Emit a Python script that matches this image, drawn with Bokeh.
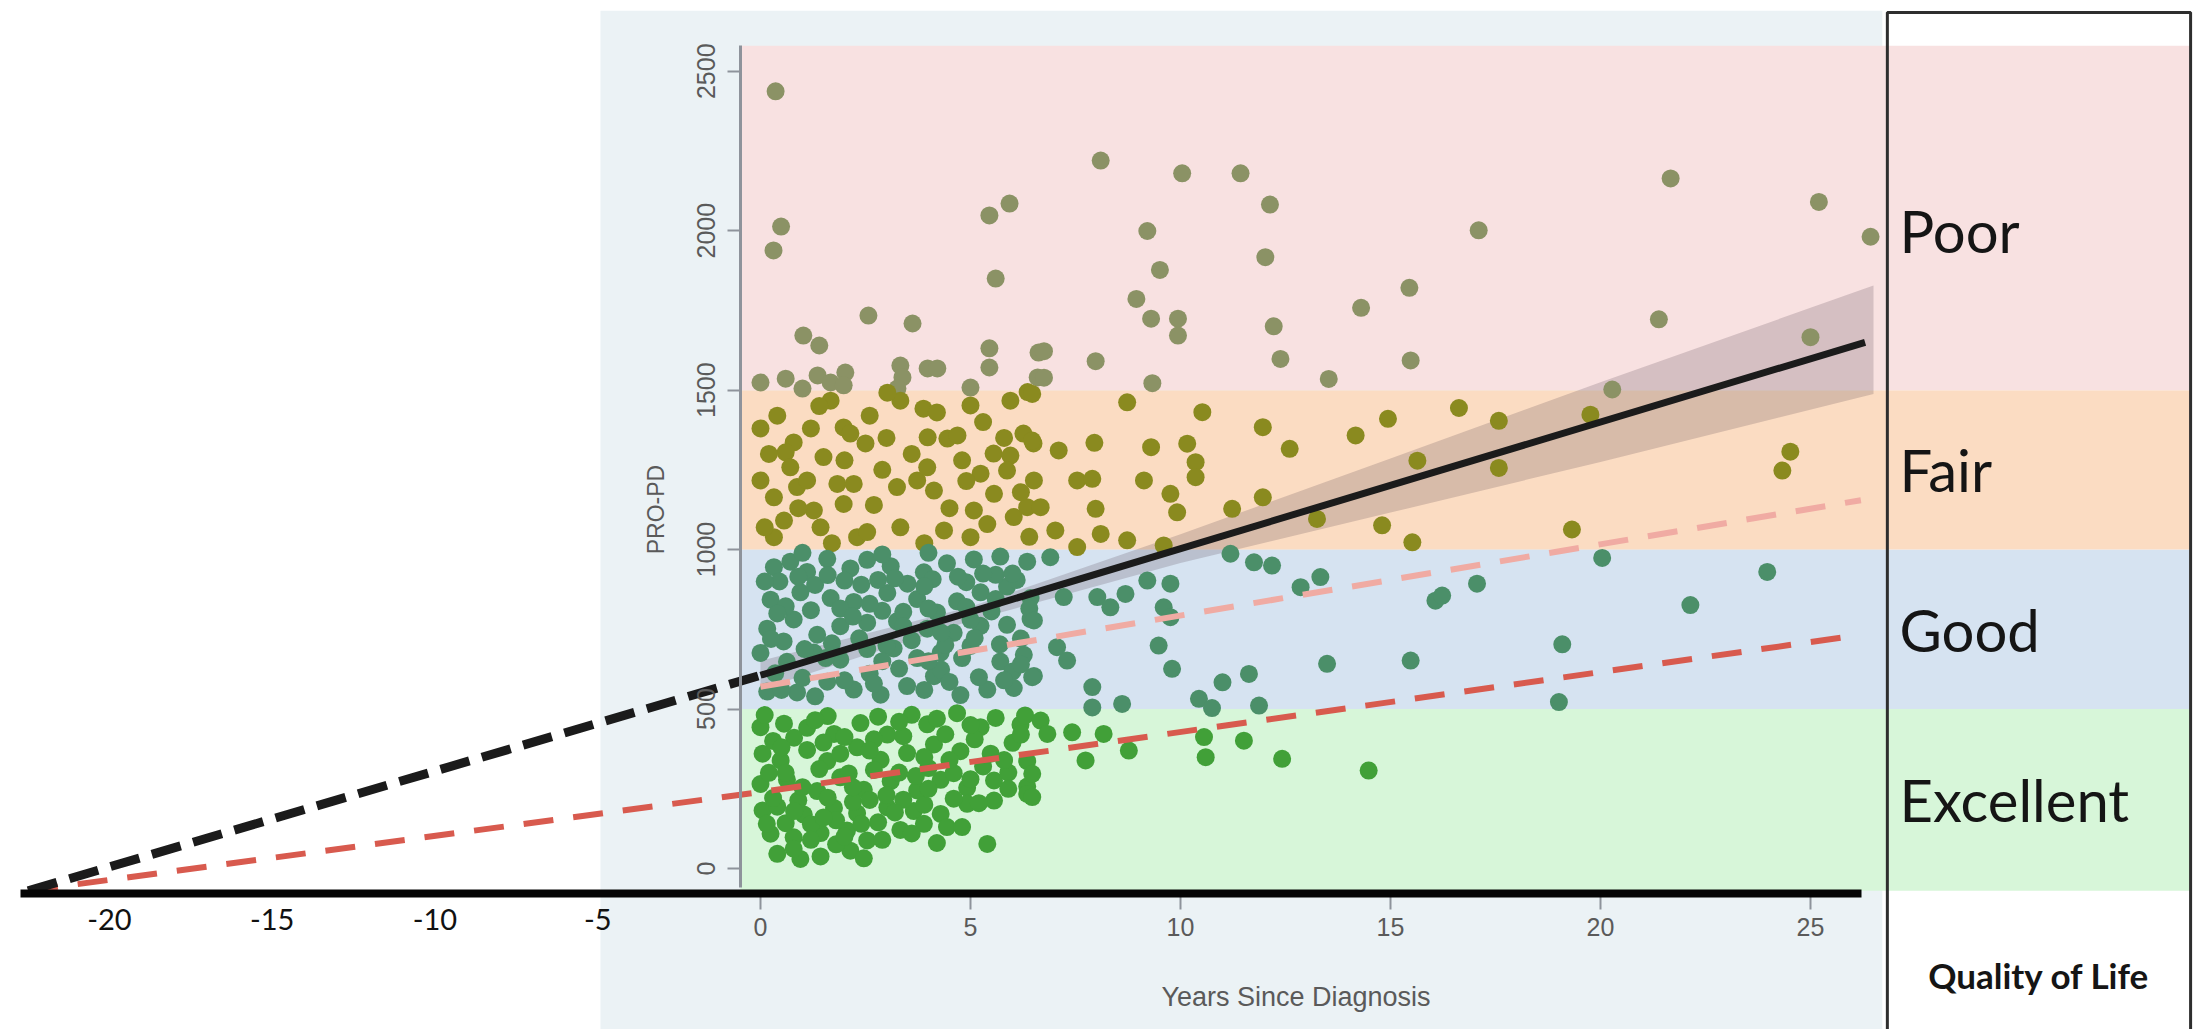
import numpy as np
from bokeh.plotting import figure
from bokeh.models import LinearAxis, FixedTicker, Range1d, ColumnDataSource
from bokeh.core.properties import value
from bokeh.embed import file_html
from bokeh.resources import INLINE

# ---------------- data ----------------
# Quality-of-life bands (PRO-PD score)
qol_labels = ["Excellent", "Good", "Fair", "Poor"]
band_low = [-70, 500, 1000, 1500]
band_high = [500, 1000, 1500, 2580]
band_colors = ["#d7f6d9", "#d6e3f1", "#fbdcc2", "#f8e1e1"]
point_colors = ["#41a038", "#4b8f69", "#8a8a1f", "#8b9265"]

x_ticks_right = [0, 5, 10, 15, 20, 25]
x_ticks_left = [-20, -15, -10, -5]
y_ticks = [0, 500, 1000, 1500, 2000, 2500]

# scatter: (years since diagnosis, PRO-PD)
pts = [
    # Poor
    (0.36, 2437), (0.49, 2013), (0.31, 1938), (5.93, 2085), (5.45, 2048), (5.6, 1850),
    (2.57, 1734), (3.62, 1709), (1.02, 1671), (1.40, 1640), (5.45, 1631), (5.45, 1571),
    (6.62, 1618), (0.0, 1524), (0.6, 1536), (1.0, 1505), (1.36, 1546), (1.67, 1524),
    (2.02, 1555), (1.98, 1515), (3.33, 1577), (3.38, 1540), (3.98, 1568), (4.21, 1568),
    (5.0, 1508), (6.6, 1540), (3.26, 1505),
    (8.10, 2220), (10.04, 2180), (11.43, 2180), (12.13, 2082), (9.21, 1999), (12.02, 1917),
    (9.51, 1877), (8.95, 1786), (9.30, 1724), (9.94, 1724), (9.94, 1671), (12.22, 1700),
    (14.30, 1758), (15.45, 1821), (6.75, 1622), (6.75, 1539), (7.98, 1591), (9.33, 1522),
    (12.38, 1598), (13.53, 1535), (15.48, 1593),
    (21.67, 2164), (25.20, 2090), (26.43, 1981), (17.10, 2001), (21.39, 1722), (25.0, 1666),
    (20.28, 1502),
    # Fair
    (0.0, 1380), (1.67, 1467), (3.33, 1467), (3.88, 1442), (5.0, 1452), (5.95, 1467),
    (1.98, 1383), (2.14, 1364), (2.5, 1333), (0.79, 1336), (0.6, 1305), (3.98, 1352),
    (4.45, 1348), (4.69, 1358), (6.26, 1364), (6.5, 1333), (5.55, 1301), (5.95, 1295),
    (3.02, 1492), (6.36, 1494), (6.47, 1488),
    (0.0, 1217), (0.32, 1164), (0.56, 1091), (0.32, 1039), (0.87, 1196), (1.11, 1217),
    (1.27, 1123), (1.43, 1070), (1.83, 1206), (2.22, 1206), (1.98, 1143), (2.30, 1039),
    (2.54, 1055), (3.25, 1196), (3.33, 1070), (3.73, 1217), (3.97, 1258), (4.13, 1185),
    (4.37, 1060), (5.0, 1039), (5.08, 1123), (5.24, 1238), (5.56, 1175), (5.87, 1248),
    (6.03, 1102), (6.35, 1133), (6.51, 1217), (0.71, 1258),
    (0.2, 1300), (0.4, 1420), (1.2, 1380), (1.5, 1290), (2.6, 1420), (2.9, 1250),
    (3.6, 1300), (4.2, 1430), (4.8, 1280), (5.3, 1400), (5.8, 1350), (6.2, 1180),
    (0.9, 1130), (2.7, 1140), (4.5, 1130), (5.4, 1080), (1.7, 1020), (3.9, 1020),
    (4.9, 1215), (0.1, 1070), (6.4, 1040), (2.0, 1280), (1.4, 1450), (3.0, 1350),
    (8.73, 1462), (10.52, 1431), (11.96, 1384), (14.17, 1358), (14.94, 1410),
    (6.47, 1342), (7.10, 1311), (7.95, 1335), (9.30, 1321), (10.16, 1332), (10.36, 1274),
    (10.36, 1227), (12.60, 1316), (15.64, 1279), (7.54, 1217), (7.90, 1222), (9.13, 1217),
    (9.76, 1175), (9.92, 1117), (6.67, 1133), (7.98, 1128), (11.23, 1128), (11.96, 1164),
    (7.02, 1060), (8.10, 1049), (8.73, 1029), (7.54, 1008), (9.60, 1013), (13.25, 1096),
    (14.80, 1076), (15.52, 1023),
    (16.63, 1444), (17.58, 1404), (19.76, 1423), (17.58, 1256), (24.52, 1307), (24.33, 1248),
    (19.32, 1063),
    # Good
    (0.32, 945), (0.71, 962), (1.11, 930), (1.59, 971), (2.14, 941), (2.54, 968),
    (3.10, 948), (3.89, 929), (4.44, 957), (5.08, 969), (5.71, 978), (6.35, 962),
    (0.24, 843), (0.95, 866), (1.67, 848), (2.22, 836), (3.02, 864), (3.73, 845),
    (4.68, 838), (5.24, 866), (5.87, 884), (6.43, 848),
    (0.16, 752), (0.79, 781), (1.35, 733), (1.90, 760), (2.54, 771), (3.25, 775),
    (3.97, 752), (4.60, 739), (5.24, 761), (5.87, 764), (6.43, 782),
    (0.0, 676), (0.63, 648), (1.27, 677), (1.90, 655), (2.54, 688), (3.17, 690),
    (3.73, 660), (4.29, 677), (5.0, 698), (5.71, 649), (6.27, 670),
    (0.16, 555), (0.87, 552), (1.59, 586), (2.22, 561), (2.86, 545), (3.49, 572),
    (4.13, 603), (4.76, 544), (5.40, 561), (6.03, 566), (6.51, 604),
    (0.45, 900), (1.3, 889), (2.0, 903), (2.8, 905), (3.5, 893), (4.1, 907), (4.9, 898),
    (5.6, 921), (0.55, 712), (1.05, 688), (1.7, 706), (2.35, 722), (3.0, 699), (3.6, 716),
    (4.4, 701), (5.1, 723), (5.7, 703), (0.35, 612), (1.0, 598), (2.6, 611), (3.3, 627),
    (4.3, 624), (6.0, 618), (0.6, 822), (2.9, 808), (4.2, 803), (5.5, 806), (6.2, 721),
    (0.1, 900), (0.9, 915), (1.6, 920), (2.4, 890), (3.2, 910), (3.9, 885), (4.7, 915),
    (5.3, 925), (6.1, 905), (0.4, 800), (1.2, 810), (1.9, 815), (2.6, 830), (3.4, 805),
    (4.0, 815), (4.9, 820), (5.6, 845), (6.4, 815), (0.5, 560), (1.3, 540), (2.0, 590),
    (2.7, 580), (3.9, 560), (4.5, 585), (5.2, 600), (5.8, 590), (0.25, 720), (1.55, 660),
    (2.9, 650), (4.0, 650), (4.8, 660), (6.2, 640), (3.4, 760), (4.3, 740), (2.2, 790),
    (5.0, 780), (1.0, 990), (2.9, 985), (4.0, 990), (6.0, 925),
    (11.19, 987), (11.75, 960), (12.18, 950), (13.33, 914), (12.86, 882), (16.07, 840),
    (6.9, 976), (7.22, 851), (8.02, 851), (8.33, 819), (8.69, 861), (9.21, 903),
    (9.76, 893), (9.60, 819), (9.76, 788), (6.51, 778), (7.06, 694), (7.30, 652),
    (9.48, 699), (9.80, 626), (6.47, 600), (7.90, 569), (7.90, 505), (8.61, 516),
    (11.0, 584), (11.63, 610), (10.44, 532), (10.75, 503), (11.87, 511), (13.49, 642),
    (15.48, 652),
    (20.04, 974), (17.06, 893), (16.23, 856), (23.97, 930), (22.14, 826), (19.09, 703),
    (19.01, 522),
    # Excellent
    (0.0, 443), (0.56, 454), (1.11, 441), (1.75, 422), (2.38, 456), (3.02, 420),
    (3.97, 452), (4.68, 487), (5.24, 443), (6.19, 451),
    (0.05, 360), (0.48, 339), (1.11, 372), (1.59, 337), (2.30, 380), (2.86, 341),
    (3.49, 362), (4.13, 389), (4.76, 368), (5.48, 360), (6.35, 337),
    (0.0, 265), (0.63, 278), (1.35, 243), (1.90, 286), (2.46, 247), (3.10, 274),
    (3.73, 245), (4.29, 278), (4.92, 253), (5.56, 276), (6.35, 257),
    (0.05, 182), (0.40, 194), (1.03, 169), (1.75, 190), (2.30, 173), (3.02, 192),
    (3.65, 180), (4.29, 171), (4.92, 203), (5.56, 213), (6.35, 234),
    (0.24, 109), (0.79, 98), (1.43, 111), (2.06, 119), (2.54, 88), (3.33, 121),
    (3.89, 140), (4.44, 130), (5.40, 77),
    (0.40, 46), (0.95, 30), (1.43, 38), (2.14, 56), (2.46, 32), (0.79, 62),
    (0.3, 400), (0.8, 410), (1.5, 395), (2.0, 412), (2.7, 405), (3.4, 415), (4.4, 421),
    (5.1, 405), (0.6, 300), (1.4, 312), (2.1, 298), (2.7, 309), (3.3, 301), (4.0, 315),
    (4.6, 299), (0.3, 221), (0.9, 214), (1.6, 222), (2.2, 209), (3.4, 216), (4.6, 219),
    (5.2, 205), (0.6, 142), (1.2, 139), (1.8, 151), (2.8, 145), (3.2, 176), (1.8, 76),
    (5.9, 301), (6.0, 394), (0.1, 481), (1.6, 478), (2.8, 476), (3.6, 482), (5.6, 472),
    (6.3, 480),
    (1.2, 90), (2.0, 100), (2.9, 90), (3.6, 110), (4.2, 80), (0.15, 140), (2.4, 140),
    (3.9, 200), (4.0, 250), (4.5, 340), (5.3, 320), (5.8, 340), (5.0, 450), (4.2, 470),
    (3.3, 460), (1.3, 465), (0.5, 380), (1.9, 360), (2.6, 370), (3.9, 350), (0.2, 300),
    (1.0, 255), (2.6, 215), (3.0, 230), (5.0, 280), (5.9, 250), (6.2, 420), (4.8, 130),
    (1.5, 160), (0.8, 180), (2.2, 255), (3.7, 290),
    (6.67, 464), (6.83, 422), (7.42, 427), (8.17, 422), (7.74, 339), (8.77, 370),
    (10.56, 412), (10.6, 349), (11.51, 401), (12.42, 344), (14.48, 307), (6.47, 297),
    (6.47, 224),
]
pt_x = [a for a, b in pts]
pt_y = [b for a, b in pts]

# regression (PRO-PD vs years) and its confidence band
fit_x = [0, 26.3]
fit_y = [606, 1650]
ci_x = [0, 5, 10, 15, 20, 26.5]
ci_lo = [561, 777, 958, 1116, 1275, 1488]
ci_hi = [651, 821, 1048, 1286, 1525, 1828]
# projected back to onset
onset_x = [-22.5, 0]
onset_y = [-70, 606]
# reference lines
red_x = [-22.5, 0, 25.9]
red_y = [-70, 240, 727]
pink_x = [0, 26.2]
pink_y = [570, 1155]

# ---------------- layout helpers ----------------
LEFT_SCALE = 0.775  # the pre-diagnosis part of the axis is drawn compressed


def disp(x):
    x = np.asarray(x, dtype=float)
    return np.where(x < 0, x * LEFT_SCALE, x)


X0, X1 = -18.095, 34.143
Y0, Y1 = -504.8, 2721.8
YAXIS_X = -0.476
XAXIS_Y = -78

p = figure(width=2194, height=1029, x_range=Range1d(X0, X1), y_range=Range1d(Y0, Y1),
           output_backend="svg", toolbar_location=None, x_axis_location=None,
           y_axis_location=None, min_border=0, background_fill_color="white",
           border_fill_color="white")
p.outline_line_color = None
p.grid.visible = False

# light panel of the original graph
p.quad(left=[-3.81], right=[26.71], top=[2690], bottom=[Y0 - 50],
       fill_color="#ebf2f5", line_color=None)

# QoL bands
p.quad(left=YAXIS_X, right=34.05, bottom=band_low, top=band_high,
       fill_color=band_colors, line_color=None)

# confidence band
p.varea(x=ci_x, y1=ci_lo, y2=ci_hi, fill_color="#4b3546", fill_alpha=0.2)

# points colored by QoL band
cols = []
for v in pt_y:
    k = 0
    for i, lo in enumerate(band_low):
        if v >= lo:
            k = i
    cols.append(point_colors[k])
src = ColumnDataSource(dict(x=disp(pt_x), y=pt_y, c=cols))
p.scatter("x", "y", source=src, size=18, fill_color="c", line_color=None)

# lines
p.line(disp(red_x), red_y, line_color="#d85a4e", line_width=6, line_dash="30 20")
p.line(disp(pink_x), pink_y, line_color="#f0aba3", line_width=6, line_dash="30 20")
p.line(disp(onset_x), onset_y, line_color="#1b1b1b", line_width=9, line_dash="30 13")
p.line(fit_x, fit_y, line_color="#1b1b1b", line_width=7)

# right-hand box with QoL labels
p.quad(left=[26.83], right=[34.05], top=[2684], bottom=[Y0 - 50],
       fill_color=None, line_color="#2e2e2e", line_width=3)
lab_y = [(lo + min(hi, 2500)) / 2 for lo, hi in zip(band_low, band_high)]
p.text(x=[27.12] * 4, y=lab_y, text=qol_labels, text_font=value("Lato"),
       text_font_size="58px", text_baseline="middle", text_align="left",
       text_color="#151515")
p.text(x=[30.44], y=[-335], text=["Quality of Life"], text_font=value("Lato"),
       text_font_size="35px", text_font_style="bold", text_baseline="middle",
       text_align="center", text_color="#151515")

# ---------------- axes ----------------
gray = "#5a5a5a"
# y axis (line only)
ya_line = LinearAxis(fixed_location=YAXIS_X, bounds=(-60, 2580),
                     ticker=FixedTicker(ticks=[]), axis_line_color="#8e939b",
                     axis_line_width=3, major_label_text_font_size="0px",
                     major_tick_line_color=None, minor_tick_line_color=None)
p.add_layout(ya_line, "left")
# y axis (ticks and labels)
ya = LinearAxis(fixed_location=YAXIS_X, bounds=(-330, 2580),
                ticker=FixedTicker(ticks=y_ticks), axis_line_color=None,
                axis_label="PRO-PD", axis_label_text_font="Liberation Sans",
                axis_label_text_font_size="23px", axis_label_text_font_style="normal",
                axis_label_text_color=gray, axis_label_standoff=26,
                major_label_orientation="vertical", major_label_text_font="Liberation Sans",
                major_label_text_font_size="25px", major_label_text_color=gray,
                major_label_standoff=12, major_tick_in=0, major_tick_out=13,
                major_tick_line_color="#8e939b", major_tick_line_width=2,
                minor_tick_line_color=None)
p.add_layout(ya, "left")

# x axis: post-diagnosis ticks
xa = LinearAxis(fixed_location=XAXIS_Y, bounds=(0, 25.5),
                ticker=FixedTicker(ticks=x_ticks_right), axis_line_color=None,
                axis_label="Years Since Diagnosis",
                axis_label_text_font="Liberation Sans", axis_label_text_font_size="27px",
                axis_label_text_font_style="normal", axis_label_text_color=gray,
                axis_label_standoff=42,
                major_label_text_font="Liberation Sans", major_label_text_font_size="25px",
                major_label_text_color=gray, major_label_standoff=9,
                major_tick_in=0, major_tick_out=16, major_tick_line_color="#8e939b",
                major_tick_line_width=2, minor_tick_line_color=None)
p.add_layout(xa, "below")

# x axis: black baseline with pre-diagnosis ticks
left_pos = [float(v) for v in disp(x_ticks_left)]
xb = LinearAxis(fixed_location=XAXIS_Y, bounds=(-17.62, 26.21),
                ticker=FixedTicker(ticks=left_pos),
                major_label_overrides={pos: str(t) for pos, t in zip(left_pos, x_ticks_left)},
                axis_line_color="#050505", axis_line_width=8,
                major_label_text_font="Lato", major_label_text_font_size="29px",
                major_label_text_color="#111111", major_label_standoff=16,
                major_tick_in=0, major_tick_out=0, major_tick_line_color=None,
                minor_tick_line_color=None)
p.add_layout(xb, "below")

open("out.html", "w").write(file_html(p, INLINE))
